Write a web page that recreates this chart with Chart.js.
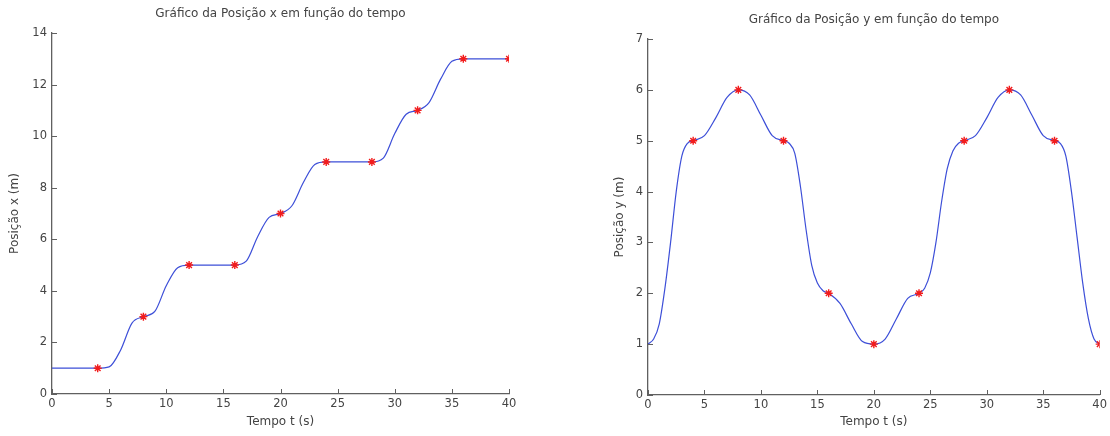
<!DOCTYPE html>
<html><head><meta charset="utf-8">
<script src="https://cdn.jsdelivr.net/npm/chart.js@4"></script>
<style>
body{margin:0;background:#fff;width:1110px;height:436px;overflow:hidden;position:relative}
canvas{position:absolute;top:0}
#ca{left:0}
#cb{left:555px}
</style>
</head><body>
<canvas id="ca" width="555" height="436"></canvas>
<canvas id="cb" width="555" height="436"></canvas>
<script>
// ---- data ----
const tX = [0,1,2,3,4,5,6,7,8,9,10,11,12,13,14,15,16,17,18,19,20,21,22,23,24,25,26,27,28,29,30,31,32,33,34,35,36,37,38,39,40];
const posX = [1,1,1,1,1,1.05,1.7,2.75,3,3.2,4.2,4.9,5,5,5,5,5,5.15,6.1,6.85,7,7.3,8.2,8.9,9,9,9,9,9,9.15,10.1,10.85,11,11.3,12.2,12.9,13,13,13,13,13];
const tMarks = [4,8,12,16,20,24,28,32,36,40];
const markX = [1,3,5,5,7,9,9,11,13,13];

const tY = [0,0.5,1,1.5,2,2.5,3,3.5,4,5,6,7,8,9,10,11,12,12.5,13,13.5,14,14.5,15,15.5,16,17,18,19,20,21,22,23,24,24.5,25,25.5,26,26.5,27,27.5,28,29,30,31,32,33,34,35,36,36.5,37,37.5,38,38.5,39,39.5,40];
const posY = [1,1.1,1.4,2.1,3.0,4.0,4.7,4.95,5,5.1,5.45,5.85,6,5.9,5.5,5.1,5,4.95,4.75,4.1,3.25,2.55,2.2,2.05,2,1.8,1.4,1.05,1,1.1,1.5,1.9,2,2.1,2.4,3.0,3.8,4.45,4.8,4.95,5,5.1,5.45,5.85,6,5.9,5.5,5.1,5,4.95,4.7,4.0,3.1,2.2,1.5,1.1,1];
const markY = [5,6,5,2,1,2,5,6,5,1];

const xTickStep = 5;
const titleA = 'Gráfico da Posição x em função do tempo';
const titleB = 'Gráfico da Posição y em função do tempo';
const xLabel = 'Tempo t (s)';
const yLabelA = 'Posição x (m)';
const yLabelB = 'Posição y (m)';

// ---- styling ----
const FONT = "'DejaVu Sans', sans-serif";
const TXT = '#444';
const AX = '#606060';

const innerTicks = {
  id: 'innerTicks',
  afterDraw(chart) {
    const {ctx, chartArea: ca, scales: {x, y}} = chart;
    ctx.save();
    ctx.strokeStyle = AX; ctx.lineWidth = 1;
    ctx.beginPath();
    x.ticks.forEach(t => { const px = Math.round(x.getPixelForValue(t.value)) + 0.5; ctx.moveTo(px, ca.bottom); ctx.lineTo(px, ca.bottom - 5); });
    y.ticks.forEach(t => { const py = Math.round(y.getPixelForValue(t.value)) + 0.5; ctx.moveTo(ca.left, py); ctx.lineTo(ca.left + 5, py); });
    ctx.stroke();
    ctx.restore();
  }
};

function pts(ts, vs) { return ts.map((t, i) => ({x: t, y: vs[i]})); }

function make(id, o) {
  return new Chart(document.getElementById(id), {
    type: 'scatter',
    data: {
      datasets: [
        {data: pts(o.t, o.v), showLine: true, borderColor: '#3d4fd8', borderWidth: 1.2, pointRadius: 0, cubicInterpolationMode: 'monotone', order: 2},
        {data: pts(tMarks, o.m), showLine: false, pointStyle: 'star', pointRadius: 4, borderColor: '#f21c1c', backgroundColor: '#f21c1c', pointBorderWidth: 1.4, order: 1}
      ]
    },
    options: {
      responsive: false, animation: false, devicePixelRatio: 1,
      layout: {padding: {left: o.padL, right: o.padR, top: 0, bottom: 0}},
      plugins: {
        legend: {display: false}, tooltip: {enabled: false},
        title: {display: true, text: o.title, fullSize: false, color: TXT, font: {family: FONT, size: 12, weight: 'normal'}, padding: {top: o.tPadTop, bottom: o.tPadBot}}
      },
      scales: {
        x: {
          type: 'linear', min: 0, max: 40,
          ticks: {stepSize: xTickStep, color: TXT, font: {family: FONT, size: 11.5}, padding: 3, maxRotation: 0},
          grid: {display: true, drawOnChartArea: false, drawTicks: false},
          border: {display: true, color: AX, width: 1.3},
          title: {display: true, text: xLabel, color: TXT, font: {family: FONT, size: 12}, padding: {top: 0, bottom: 7}},
          afterFit(s) { s.height = o.xH; }
        },
        y: {
          type: 'linear', min: 0, max: o.yMax,
          ticks: {stepSize: o.yStep, color: TXT, font: {family: FONT, size: 11.5}, padding: 5},
          grid: {display: true, drawOnChartArea: false, drawTicks: false},
          border: {display: true, color: AX, width: 1.3},
          title: {display: true, text: o.yLabel, color: TXT, font: {family: FONT, size: 12}, padding: {top: 0, bottom: 0}},
          afterFit(s) { s.width = o.yW; }
        }
      }
    },
    plugins: [innerTicks]
  });
}

make('ca', {t: tX, v: posX, m: markX, title: titleA, yLabel: yLabelA, yMax: 14, yStep: 2,
  padL: 8, padR: 46, yW: 44, xH: 42, tPadTop: 7, tPadBot: 11.6});
make('cb', {t: tY, v: posY, m: markY, title: titleB, yLabel: yLabelB, yMax: 7, yStep: 1,
  padL: 58, padR: 10, yW: 35, xH: 41, tPadTop: 13, tPadBot: 11.6});
</script>
</body></html>
